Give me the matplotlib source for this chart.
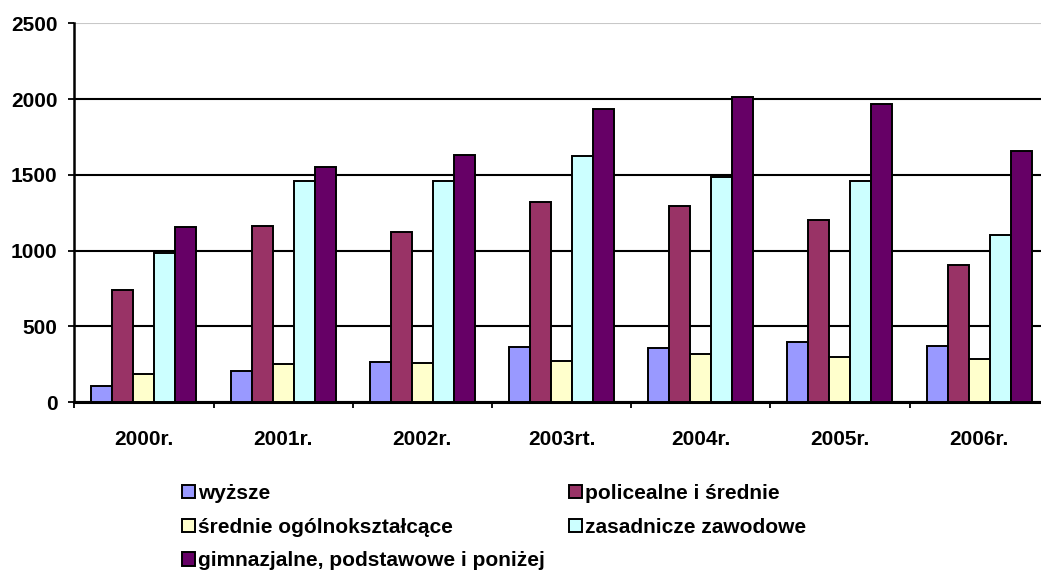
import numpy as np
import matplotlib
matplotlib.use("Agg")
import matplotlib.pyplot as plt
from matplotlib.patches import Patch

plt.rcParams['font.family'] = ['Liberation Sans', 'DejaVu Sans']
plt.rcParams['font.weight'] = 'bold'

# data
years = ["2000r.", "2001r.", "2002r.", "2003rt.", "2004r.", "2005r.", "2006r."]
names = ["wyższe", "policealne i średnie", "średnie ogólnokształcące",
         "zasadnicze zawodowe", "gimnazjalne, podstawowe i poniżej"]
wyzsze = [108, 205, 262, 363, 359, 398, 372]
policealne = [742, 1163, 1125, 1321, 1295, 1200, 905]
srednie_ogol = [183, 249, 258, 271, 315, 299, 282]
zasadnicze = [982, 1458, 1458, 1623, 1482, 1462, 1103]
gimnazjalne = [1156, 1552, 1631, 1935, 2010, 1968, 1660]
colors = ["#9999FF", "#993366", "#FFFFCC", "#CCFFFF", "#660066"]

series = [wyzsze, policealne, srednie_ogol, zasadnicze, gimnazjalne]

fig = plt.figure(figsize=(10.41, 5.73), dpi=100)
ax = fig.add_axes([0.0714, 0.2984, 0.936, 0.661])

x = np.arange(len(years))
w = 0.151
for i, s in enumerate(series):
    ax.bar(x + (i - 2) * w, s, w, color=colors[i], edgecolor='black',
           linewidth=1.4, zorder=3)

ax.set_xlim(-0.5, len(years) - 0.5)
ax.set_ylim(0, 2500)
ax.set_yticks(np.arange(0, 2501, 500))
ax.set_xticks(x)
ax.set_xticklabels(years)
ax.set_xticks(np.arange(-0.5, len(years), 1), minor=True)

ax.tick_params(axis='y', length=4, width=1.3, pad=8, labelsize=15)
ax.tick_params(axis='x', which='major', length=0, pad=20, labelsize=15)
ax.tick_params(axis='x', which='minor', length=4, width=1.3)

ax.yaxis.grid(True, color='black', linewidth=1.5, zorder=0)
ax.get_ygridlines()[-1].set_color('#c8c8c8')
ax.set_axisbelow(True)

ax.spines['right'].set_visible(False)
ax.spines['top'].set_visible(False)
ax.spines['left'].set_linewidth(1.8)
ax.spines['bottom'].set_linewidth(2.2)

handles = [Patch(facecolor=colors[i], edgecolor='black', linewidth=1.4) for i in range(5)]
order = [0, 2, 4, 1, 3]
fig.legend([handles[i] for i in order], [names[i] for i in order],
           loc='upper left', bbox_to_anchor=(182 / 1041, 1 - 484 / 573),
           ncol=2, frameon=False, fontsize=15, borderpad=0, borderaxespad=0,
           handlelength=0.62, handleheight=0.62, handletextpad=0.15,
           labelspacing=0.7, columnspacing=1.15)

fig.savefig("out.png", dpi=100)
